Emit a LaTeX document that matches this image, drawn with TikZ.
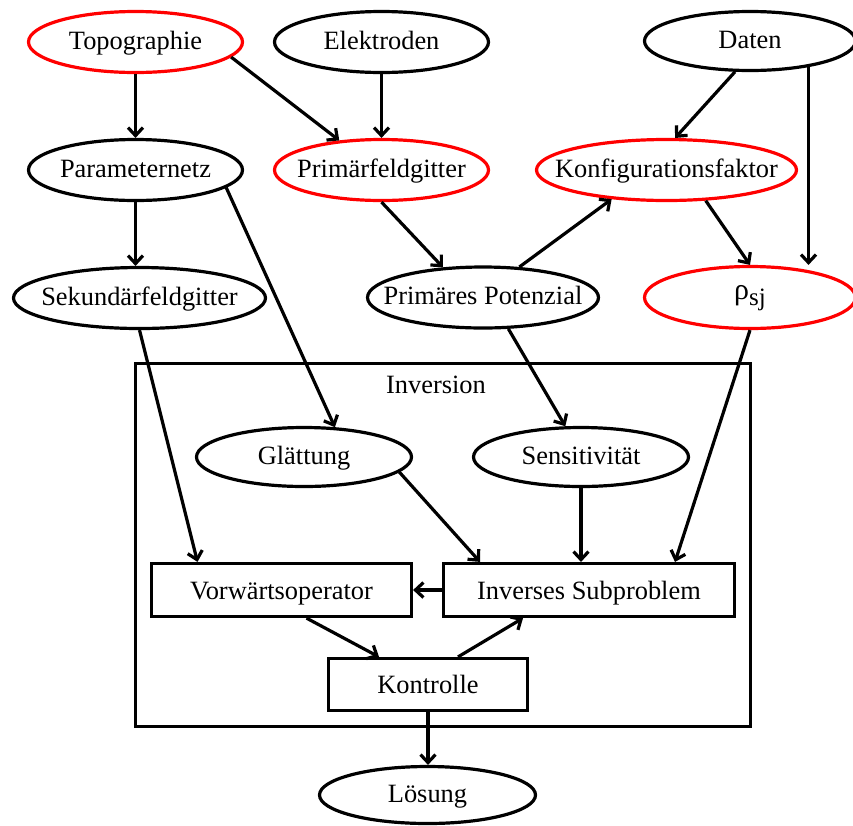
\documentclass[tikz,border=0pt]{standalone}
\usepackage{fontspec}
\setmainfont{Liberation Serif}
\usetikzlibrary{arrows.meta,shapes.geometric}
\newcommand{\zb}[1]{\makebox[0pt]{#1}}
\begin{document}
\begin{tikzpicture}[x=1pt,y=-1pt,
  every node/.style={font=\fontsize{26.4}{30}\selectfont, line width=3.2pt, inner sep=0pt},
  ell/.style={ellipse, draw=black, text height=19pt, text depth=5pt},
  redell/.style={ell, draw=red},
  box/.style={rectangle, draw=black, text height=19pt, text depth=1pt},
  arr/.style={line width=3.2pt, -{Straight Barb[length=8pt,width=15pt]}}
]
\useasboundingbox (0,0) rectangle (853,825);

% row 1
\node[redell, minimum width=214pt, minimum height=61pt] (topo) at (135.5,42) {\zb{Topographie}};
\node[ell, minimum width=214pt, minimum height=61pt] (elek) at (381.5,42) {\zb{Elektroden}};
\node[ell, minimum width=211pt, minimum height=59pt] (daten) at (750,41) {\zb{Daten}};
% row 2
\node[ell, minimum width=214pt, minimum height=61pt] (param) at (135.5,170) {\zb{Parameternetz}};
\node[redell, minimum width=214pt, minimum height=61pt] (prim) at (381.5,170) {\zb{Primärfeldgitter}};
\node[redell, minimum width=260pt, minimum height=61pt] (konf) at (666.5,170) {\zb{Konfigurationsfaktor}};
% row 3
\node[ell, minimum width=252pt, minimum height=61pt] (sek) at (139.5,298) {\zb{Sekundärfeldgitter}};
\node[ell, minimum width=231pt, minimum height=61pt] (pot) at (483,297.5) {\zb{Primäres Potenzial}};
\node[redell, minimum width=211pt, minimum height=62pt, text height=14pt, text depth=10pt] (rho) at (750,297.5) {\zb{{\fontsize{30}{30}\selectfont ρ}\raisebox{-6pt}{\fontsize{25}{25}\selectfont sj}}};

% inversion box
\node[draw=black, rectangle, minimum width=615pt, minimum height=363pt] (invbox) at (443,545) {};
\node[text height=19pt, text depth=5pt] (invlabel) at (436,386) {Inversion};

\node[ell, minimum width=215pt, minimum height=59pt] (glatt) at (304,457) {\zb{Glättung}};
\node[ell, minimum width=215pt, minimum height=59pt] (sens) at (581,457) {\zb{Sensitivität}};
\node[box, minimum width=260pt, minimum height=53pt] (vorw) at (281.5,590) {Vorwärtsoperator};
\node[box, minimum width=291pt, minimum height=53pt] (inv) at (589,590) {Inverses Subproblem};
\node[box, minimum width=199pt, minimum height=52pt] (kon) at (428,684.5) {Kontrolle};
\node[ell, minimum width=216pt, minimum height=57pt] (loes) at (427.5,795) {\zb{Lösung}};

% connectors
\draw[arr] (topo.south) -- (param.north);
\draw[arr] (topo.-9.8) -- (prim.145.8);
\draw[arr] (elek.south) -- (prim.north);
\draw[arr] (daten.-116) -- (konf.75.6);
\draw[arr] (daten.-24.7) -- (daten.-24.7 |- rho.north);
\draw[arr] (param.south) -- (param.south |- sek.north);
\draw[arr] (param.-11) -- (glatt.44.8);
\draw[arr] (sek.south) -- ([xshift=-84pt]vorw.north);
\draw[arr] (prim.south) -- (pot.143.8);
\draw[arr] (pot.40.2) -- (konf.-152.2);
\draw[arr] (konf.-38.5) -- (rho.north);
\draw[arr] (pot.-51.4) -- (sens.117.5);
\draw[arr] (glatt.-9.1) -- ([xshift=-109pt]inv.north);
\draw[arr] (sens.south) -- (sens.south |- inv.north);
\draw[arr] (rho.south) -- ([xshift=86pt]inv.north);
\draw[arr] (inv.west) -- (vorw.east);
\draw[arr] ([xshift=25pt]vorw.south) -- ([xshift=-49pt]kon.north);
\draw[arr] ([xshift=30pt]kon.north) -- ([xshift=-66pt]inv.south);
\draw[arr] (kon.south) -- (kon.south |- loes.north);
\end{tikzpicture}
\end{document}
